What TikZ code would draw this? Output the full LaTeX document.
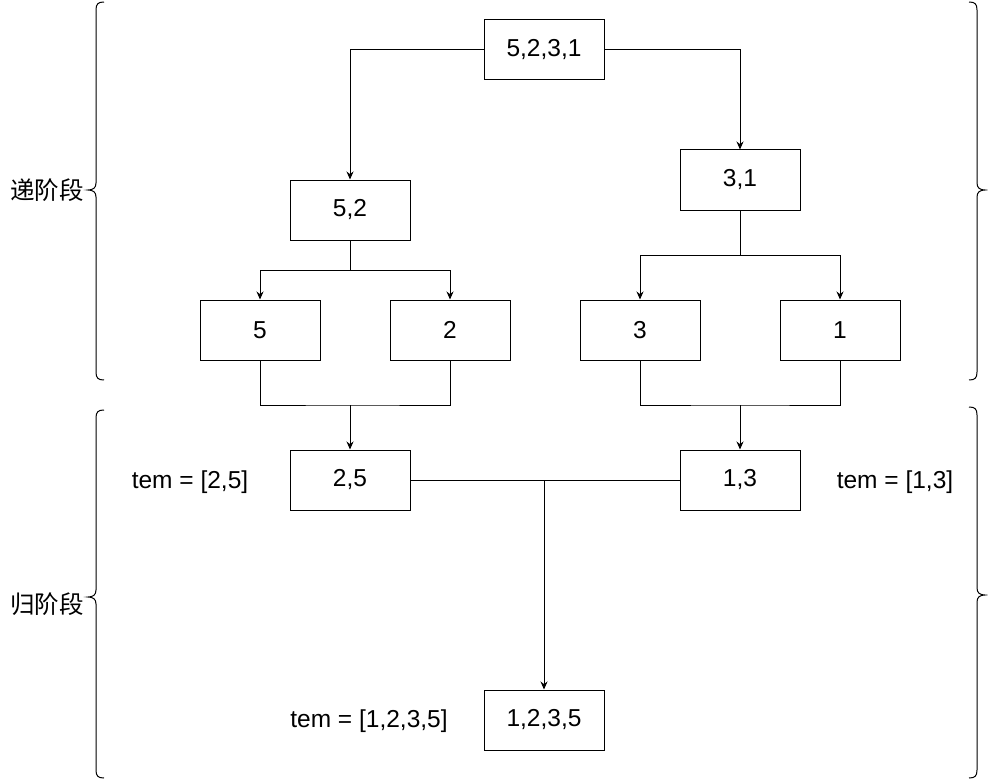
\documentclass[tikz,border=0pt]{standalone}
\usepackage{fontspec}
\setmainfont{Liberation Sans}
\newfontfamily\cjkfont{Noto Sans CJK SC}
\usetikzlibrary{arrows.meta}
\tikzset{
  box/.style={draw,minimum width=120pt,minimum height=60pt,inner sep=0pt},
  arr/.style={-{Stealth[length=8pt,width=7pt]}},
  lbl/.style={inner sep=0pt}
}
\begin{document}
\begin{tikzpicture}[x=1pt,y=-1pt,line width=1pt,
  every node/.style={font=\fontsize{24.5}{28}\selectfont}]
\useasboundingbox (0,0) rectangle (988,781);
% recursion: split
\node[box] (r) at (544,50) {5,2,3,1};
\node[box] (n52) at (350,210) {5,2};
\node[box] (n31) at (740,180) {3,1};
\node[box] (n5) at (260,330) {5};
\node[box] (n2) at (450,330) {2};
\node[box] (n3) at (640,330) {3};
\node[box] (n1) at (840,330) {1};
\draw[arr] (r.west) -| (n52.north);
\draw[arr] (r.east) -| (n31.north);
\coordinate (s52) at (350,270);
\coordinate (s31) at (740,255);
\draw[arr] (n52.south) -- (s52) -| (n5.north);
\draw[arr] (s52) -| (n2.north);
\draw[arr] (n31.south) -- (s31) -| (n3.north);
\draw[arr] (s31) -| (n1.north);
% return: merge
\node[box] (n25) at (350,480) {2,5};
\node[box] (n13) at (740,480) {1,3};
\node[box] (n1235) at (544,720) {1,2,3,5};
\coordinate (m25) at (350,405);
\coordinate (m13) at (740,405);
\coordinate (m1235) at (544,480);
\draw (n5.south) |- (m25) -| (n2.south);
\draw[arr] (m25) -- (n25.north);
\draw (n3.south) |- (m13) -| (n1.south);
\draw[arr] (m13) -- (n13.north);
\draw (n25.east) -- (n13.west);
\draw[arr] (m1235) -- (n1235.north);
\node[lbl] (t25) at (190,482) {tem = [2,5]};
\node[lbl] (t13) at (895,482) {tem = [1,3]};
\node[lbl] (t1235) at (369,721) {tem = [1,2,3,5]};
% braces
\node[lbl,anchor=east,font=\cjkfont\fontsize{24.5}{28}\selectfont] (di) at (84,190) {递阶段};
\node[lbl,anchor=east,font=\cjkfont\fontsize{24.5}{28}\selectfont] (gui) at (84,604) {归阶段};
\draw (104,2) .. controls (98,2) and (96,4) .. (96,10) -- (96,183)
  .. controls (96,188) and (93,190) .. (88,190)
  .. controls (93,190) and (96,192) .. (96,197) -- (96,372)
  .. controls (96,378) and (98,380) .. (104,380);
\draw (104,410) .. controls (98,410) and (96,412) .. (96,418) -- (96,590)
  .. controls (96,595) and (93,597) .. (88,597)
  .. controls (93,597) and (96,599) .. (96,604) -- (96,770)
  .. controls (96,776) and (98,778) .. (104,778);
\draw (969,2) .. controls (975,2) and (977,4) .. (977,10) -- (977,183)
  .. controls (977,188) and (980,190) .. (985,190)
  .. controls (980,190) and (977,192) .. (977,197) -- (977,372)
  .. controls (977,378) and (975,380) .. (969,380);
\draw (969,407) .. controls (975,407) and (977,409) .. (977,415) -- (977,588)
  .. controls (977,593) and (980,595) .. (985,595)
  .. controls (980,595) and (977,597) .. (977,602) -- (977,770)
  .. controls (977,776) and (975,778) .. (969,778);
\end{tikzpicture}
\end{document}
